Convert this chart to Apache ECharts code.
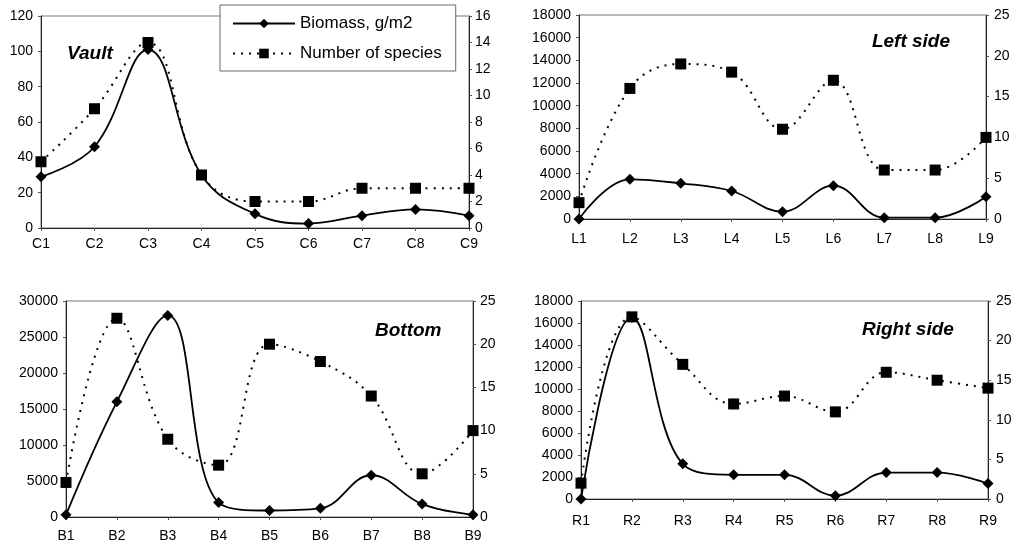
<!DOCTYPE html>
<html>
<head>
    <meta charset="UTF-8"/>
    <title>Biomass and number of species</title>
    <script src="https://cdn.jsdelivr.net/npm/echarts@6/dist/echarts.min.js"></script>
    <style>
        html, body { margin: 0; padding: 0; background: #fff; }
    </style>
</head>
<body>
<div id="main" style="width: 1016px; height: 548px;"></div>
<script type="text/javascript">
    // categories of each panel
    var vaultCats = ['C1', 'C2', 'C3', 'C4', 'C5', 'C6', 'C7', 'C8', 'C9'];
    var leftCats = ['L1', 'L2', 'L3', 'L4', 'L5', 'L6', 'L7', 'L8', 'L9'];
    var bottomCats = ['B1', 'B2', 'B3', 'B4', 'B5', 'B6', 'B7', 'B8', 'B9'];
    var rightCats = ['R1', 'R2', 'R3', 'R4', 'R5', 'R6', 'R7', 'R8', 'R9'];

    // biomass, g/m2 (left axis)
    var vaultBio = [29, 46, 101, 30, 8, 2.5, 7, 10.5, 7];
    var leftBio = [0, 3500, 3150, 2470, 650, 2940, 120, 120, 1970];
    var bottomBio = [300, 16000, 28000, 2000, 900, 1200, 5800, 1800, 300];
    var rightBio = [0, 16500, 3200, 2200, 2200, 300, 2400, 2400, 1400];

    // number of species (right axis)
    var vaultSp = [5, 9, 14, 4, 2, 2, 3, 3, 3];
    var leftSp = [2, 16, 19, 18, 11, 17, 6, 6, 10];
    var bottomSp = [4, 23, 9, 6, 20, 18, 14, 5, 10];
    var rightSp = [2, 23, 17, 12, 13, 11, 16, 15, 14];

    var panelNames = ['Vault', 'Left side', 'Bottom', 'Right side'];

    var FONT = '"Liberation Sans", Arial, sans-serif';
    var myChart = echarts.init(document.getElementById('main'));

    var grids = [
        {left: 41, top: 16, width: 428, height: 212},
        {left: 579, top: 15, width: 407, height: 204},
        {left: 66, top: 301, width: 407, height: 216},
        {left: 581, top: 301, width: 407, height: 198}
    ];
    var cats = [vaultCats, leftCats, bottomCats, rightCats];
    var bios = [vaultBio, leftBio, bottomBio, rightBio];
    var sps = [vaultSp, leftSp, bottomSp, rightSp];
    var leftMax = [120, 18000, 30000, 18000];
    var leftStep = [20, 2000, 5000, 2000];
    var rightMax = [16, 25, 25, 25];
    var rightStep = [2, 5, 5, 5];
    var xMargin = [9, 13, 12, 15];
    var rightMargin = [6, 8, 7, 8];

    var axisLine = {show: true, lineStyle: {color: '#222', width: 1}};
    var plain = function (v) { return String(v); };
    var xAxis = [], yAxis = [], series = [];

    for (var i = 0; i < 4; i++) {
        xAxis.push({
            type: 'category', gridIndex: i, data: cats[i], boundaryGap: false,
            axisLine: axisLine,
            axisTick: {show: true, length: 3, lineStyle: {color: '#555'}},
            axisLabel: {color: '#000', fontFamily: FONT, fontSize: 14, margin: xMargin[i]},
            splitLine: {show: false}
        });
        yAxis.push({
            type: 'value', gridIndex: i, min: 0, max: leftMax[i], interval: leftStep[i],
            axisLine: axisLine,
            axisTick: {show: true, length: 3, lineStyle: {color: '#555'}},
            axisLabel: {color: '#000', fontFamily: FONT, fontSize: 14, margin: 8, formatter: plain},
            splitLine: {show: false}
        });
        yAxis.push({
            type: 'value', gridIndex: i, position: 'right', min: 0, max: rightMax[i], interval: rightStep[i],
            axisLine: axisLine,
            axisTick: {show: true, length: 3, lineStyle: {color: '#555'}},
            axisLabel: {color: '#000', fontFamily: FONT, fontSize: 14, margin: rightMargin[i], formatter: plain},
            splitLine: {show: false}
        });
        series.push({
            name: 'Biomass, g/m2', type: 'line', xAxisIndex: i, yAxisIndex: i * 2,
            data: bios[i], smooth: 0.4,
            symbol: 'diamond', symbolSize: 11,
            lineStyle: {color: '#000', width: 1.8},
            itemStyle: {color: '#000'}
        });
        series.push({
            name: 'Number of species', type: 'line', xAxisIndex: i, yAxisIndex: i * 2 + 1,
            data: sps[i], smooth: 0.4,
            symbol: 'rect', symbolSize: 11,
            lineStyle: {color: '#000', width: 2, type: [2, 6]},
            itemStyle: {color: '#000'}
        });
    }

    var titleStyle = {fontFamily: FONT, fontSize: 19, fontWeight: 'bold', fontStyle: 'italic', color: '#000'};
    var option = {
        animation: false,
        grid: grids.map(function (g) {
            return {left: g.left, top: g.top, width: g.width, height: g.height,
                show: true, borderColor: '#777', borderWidth: 1};
        }),
        title: [
            {text: panelNames[0], left: 62, top: 39, textStyle: titleStyle},
            {text: panelNames[1], right: 61, top: 27, textStyle: titleStyle},
            {text: panelNames[2], left: 370, top: 316, textStyle: titleStyle},
            {text: panelNames[3], left: 857, top: 315, textStyle: titleStyle}
        ],
        legend: {
            orient: 'vertical', left: 220, top: 5,
            data: ['Biomass, g/m2', 'Number of species'],
            itemWidth: 62, itemHeight: 12, itemGap: 13,
            padding: [10, 14, 9, 12],
            backgroundColor: '#fff', borderColor: '#666', borderWidth: 1,
            textStyle: {fontFamily: FONT, fontSize: 17, color: '#000'}
        },
        xAxis: xAxis,
        yAxis: yAxis,
        series: series
    };
    myChart.setOption(option);
</script>
</body>
</html>
